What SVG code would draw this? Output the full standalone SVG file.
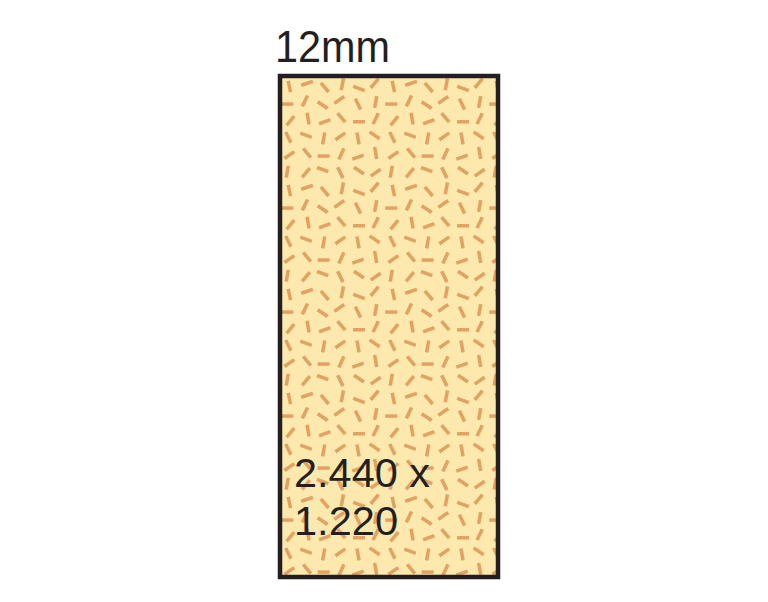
<svg xmlns="http://www.w3.org/2000/svg" width="768" height="602" viewBox="0 0 768 602">
<style>
.lbl{font-family:"Liberation Sans","DejaVu Sans",sans-serif;fill:#231f20}
.d line{stroke:#e0a363;stroke-width:3.4}
</style>
<defs>
<pattern id="chips" patternUnits="userSpaceOnUse" x="280" y="76" width="104" height="104" patternTransform="rotate(0)">
<rect width="104" height="104" fill="#fde9ae"/>
<g class="d" transform="scale(1.04)">
<line x1="7.84" y1="4.58" x2="10.16" y2="15.42"/>
<line x1="31.6" y1="5.12" x2="20.4" y2="8.88"/>
<line x1="39.2" y1="6.6" x2="46.8" y2="15.4"/>
<line x1="61.1" y1="2.3" x2="58.9" y2="13.7"/>
<line x1="70.4" y1="10" x2="81.6" y2="14"/>
<line x1="94.7" y1="2.6" x2="87.3" y2="11.4"/>
<line x1="1.2" y1="27" x2="12.8" y2="27"/>
<line x1="26.5" y1="18.8" x2="21.5" y2="29.2"/>
<line x1="36.2" y1="24.7" x2="45.8" y2="31.3"/>
<line x1="61.8" y1="19.7" x2="52.2" y2="26.3"/>
<line x1="72.5" y1="21.8" x2="77.5" y2="32.2"/>
<line x1="93" y1="19.3" x2="91" y2="30.7"/>
<line x1="13.7" y1="38.6" x2="6.3" y2="47.4"/>
<line x1="26" y1="35.3" x2="28" y2="46.7"/>
<line x1="48.5" y1="42" x2="37.5" y2="46"/>
<line x1="55.3" y1="35.6" x2="62.7" y2="44.4"/>
<line x1="70.2" y1="44" x2="81.8" y2="44"/>
<line x1="94.5" y1="35.8" x2="89.5" y2="46.2"/>
<line x1="5.5" y1="53.8" x2="10.5" y2="64.2"/>
<line x1="19.5" y1="55" x2="30.5" y2="59"/>
<line x1="43" y1="54.3" x2="41" y2="65.7"/>
<line x1="62.8" y1="54.7" x2="53.2" y2="61.3"/>
<line x1="74" y1="54.3" x2="76" y2="65.7"/>
<line x1="86.2" y1="53.7" x2="95.8" y2="60.3"/>
<line x1="13.8" y1="72.7" x2="4.2" y2="79.3"/>
<line x1="22.3" y1="69.6" x2="29.7" y2="78.4"/>
<line x1="36.2" y1="77" x2="47.8" y2="77"/>
<line x1="61.5" y1="69.8" x2="56.5" y2="80.2"/>
<line x1="80.5" y1="76" x2="69.5" y2="80"/>
<line x1="91" y1="68.3" x2="93" y2="79.7"/>
<line x1="8" y1="86.3" x2="6" y2="97.7"/>
<line x1="28.7" y1="88.6" x2="21.3" y2="97.4"/>
<line x1="35.5" y1="88" x2="46.5" y2="92"/>
<line x1="55.5" y1="87.8" x2="60.5" y2="98.2"/>
<line x1="71.2" y1="87.7" x2="80.8" y2="94.3"/>
<line x1="96.8" y1="89.7" x2="87.2" y2="96.3"/>
</g>
</pattern>
</defs>
<rect width="768" height="602" fill="#ffffff"/>
<g id="board">
<rect x="280" y="76" width="218" height="501" fill="url(#chips)" stroke="#231f20" stroke-width="4.5"/>
</g>
<g id="labels">
<text class="lbl" x="275" y="62" font-size="45" textLength="115" lengthAdjust="spacingAndGlyphs">12mm</text>
<text class="lbl" x="294" y="487" font-size="41" textLength="136" lengthAdjust="spacingAndGlyphs">2.440 x</text>
<text class="lbl" x="294" y="535" font-size="41" textLength="104" lengthAdjust="spacingAndGlyphs">1.220</text>
</g>
</svg>
